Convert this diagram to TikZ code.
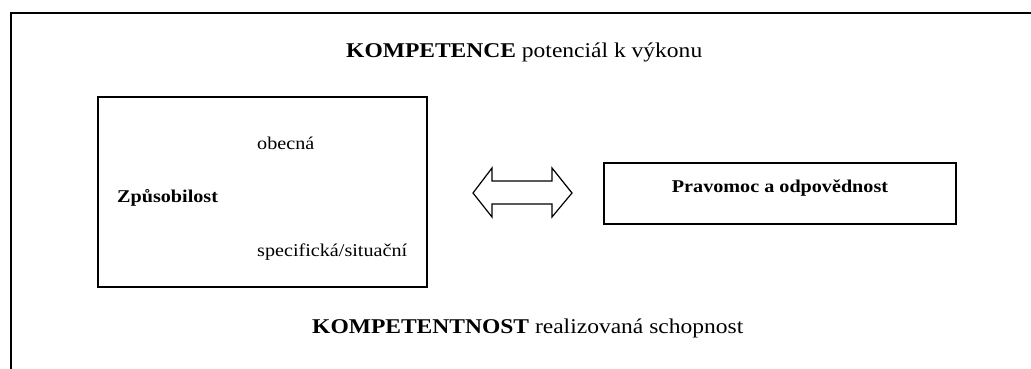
\documentclass[tikz,border=0pt]{standalone}
\usepackage{fontspec}
\setmainfont[FakeStretch=1.12]{Liberation Serif}
\begin{document}
\begin{tikzpicture}[x=1pt,y=-1pt,
  big/.style={inner sep=0pt,anchor=base west,font=\fontsize{21}{25}\selectfont},
  small/.style={inner sep=0pt,anchor=base west,font=\fontsize{18}{22}\selectfont},
  box/.style={draw,line width=2.2pt},
  frame/.style={line width=1.8pt}]
\useasboundingbox (0,0) rectangle (1031,369);
\draw[frame] (11,369) -- (11,13) -- (1031,13);
\node[big] (t1) at (346,58) {\textbf{KOMPETENCE} potenciál k výkonu};
\node[big] (t2) at (312,333) {\textbf{KOMPETENTNOST} realizovaná schopnost};
\draw[box] (98,97) rectangle (427,287);
\node[small] (zp) at (117,202) {\textbf{Způsobilost}};
\node[small] (ob) at (257,149) {obecná};
\node[small] (sp) at (257,256) {specifická/situační};
\draw[box] (604,163) rectangle (956,224);
\node[small,anchor=base] (pr) at (780,192) {\textbf{Pravomoc a odpovědnost}};
\draw[line width=1.2pt,line join=miter]
  (473,193) -- (492,168) -- (492,181) -- (552,181) -- (552,168) -- (572,193)
  -- (552,217) -- (552,204) -- (492,204) -- (492,217) -- cycle;
\end{tikzpicture}
\end{document}
